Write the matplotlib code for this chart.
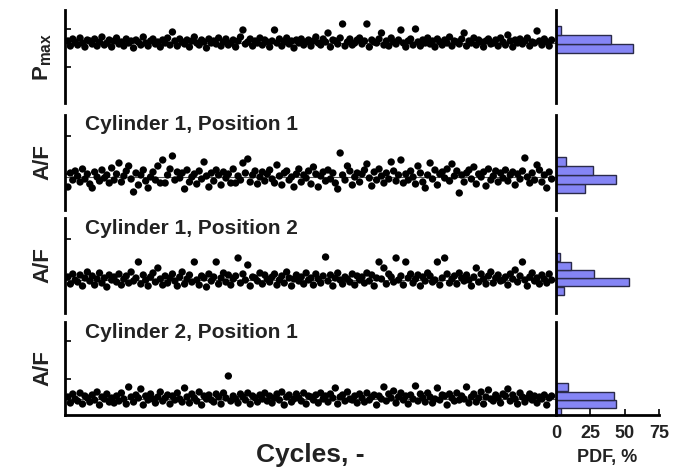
import numpy as np
import matplotlib
matplotlib.use("Agg")
import matplotlib.pyplot as plt

plt.rcParams['font.family'] = ['Liberation Sans', 'DejaVu Sans']

# cycle-to-cycle deviation from the mean line (arbitrary units), 200 cycles per trace
pmax_vals = [
    2, -3, 4, 1, -2, 5, 0, -4, 3, 2, -1, 4, -3, 1, 6, -2, 0, 3, -4, 2,
    5, -1, 1, -3, 4, 0, 2, -5, 3, 1, -2, 6, 0, -3, 2, 4, -1, 1, -4, 3,
    0, 5, -2, 11, 2, -3, 4, 1, -1, 3, -4, 2, 6, 0, -2, 3, 1, -5, 4, 0,
    2, -1, 5, -3, 1, 4, -2, 0, 3, -4, 2, 6, 13, -1, 1, 4, -3, 2, 0, 5,
    -2, 3, 1, -4, 2, 13, 0, 4, -3, 1, 5, -1, 2, -5, 3, 0, 4, -2, 1, 3,
    -3, 2, 6, 0, -2, 4, 1, 10, -4, 3, 2, -1, 5, 19, -3, 1, 4, -2, 0, 3,
    5, -1, 2, 19, -4, 3, 1, 0, 4, 10, -2, 2, -3, 5, 1, -1, 3, 13, 0, -4,
    2, 4, -2, 14, 1, -3, 3, 0, 5, -1, 2, -4, 4, 1, -2, 3, 0, 6, -3, 2,
    1, -1, 4, 10, -3, 2, 0, 5, -2, 3, 1, -4, 2, 4, -1, 0, 3, -3, 5, 1,
    -2, 8, 2, -4, 3, 0, 4, -1, 2, 5, -3, 1, 0, 12, 2, -2, 4, 1, -3, 3,
]
af_c1p1 = [
    -10, 4, -3, 6, 1, -5, 8, -2, 3, -7, -11, 5, 0, -4, 7, -1, 2, -6, 9, -3,
    3, 14, -5, 1, 6, 11, -2, -15, 4, -8, 2, 7, -4, -11, 0, 5, -3, 11, -6, 17,
    -6, 2, 8, 21, -3, 5, -1, 4, -12, 7, -5, 0, 3, -7, 6, -2, 15, 1, -10, 4,
    -4, 7, 2, -8, 5, -1, 3, -6, 8, -6, 1, -3, 14, 4, 18, -5, 2, 6, -7, 0,
    5, -4, 3, 7, -2, -6, 12, 1, -8, 4, 6, -3, 0, -10, 3, 8, -5, 2, -1, 6,
    -7, 10, 3, -10, 1, 5, -4, 7, -2, 4, -6, -12, 24, 2, -3, 11, 6, -8, 0, 4,
    -5, 3, 7, 13, -1, -9, 5, -3, 8, 1, -6, 4, -2, 15, 6, -4, 2, 17, -6, 3,
    -3, 6, 0, -7, 11, 4, -5, -11, 2, 14, -2, 7, -8, 3, 5, -1, 8, -4, 13, 1,
    6, -16, 2, -5, 4, 7, -2, 10, -7, 3, 0, 5, -9, 8, -3, 1, 6, -5, 4, -1,
    7, -4, 2, 5, -8, 3, -2, 6, 19, 0, -6, 4, -3, 12, 7, -5, 2, -11, 5, -2,
]
af_c1p2 = [
    3, -4, 6, 0, -2, 5, -6, 2, 8, -1, 4, -5, 1, 7, -3, 2, -7, 5, 0, 3,
    -2, 6, -5, 1, 4, -3, 8, -1, 2, 18, -4, 5, 0, -6, 3, 7, -2, 12, 1, -5,
    4, -3, 2, 6, -1, -6, 3, 8, -4, 1, 5, -2, 18, 0, -5, 4, 2, -7, 6, -1,
    3, 18, -4, 2, 7, -2, 5, -5, 1, 4, 22, -3, 6, 0, 15, -6, 3, 2, -1, 7,
    -4, 5, 1, -2, 3, 6, -5, 0, 4, -3, 8, 2, -6, 1, 5, -1, 3, -4, 7, 0,
    2, -5, 6, 1, -3, 4, 23, -1, 5, -6, 2, 7, 0, -4, 3, 1, -2, 6, -5, 4,
    0, 3, -3, 7, -1, 5, -6, 2, 18, 1, 12, -4, 6, 3, -2, 22, 0, 4, -5, 18,
    2, 6, -3, 1, 5, -6, 3, -1, 7, 4, -2, 0, 18, -5, 2, 22, 6, -3, 1, 4,
    -4, 7, 2, -1, 5, 0, -6, 3, 12, -2, 6, 1, -4, 4, 8, -3, 2, 5, -1, 0,
    3, -5, 6, 1, 10, -2, 4, 18, 0, -6, 3, 7, -1, 2, -4, 5, 1, -3, 6, 0,
]
af_c2p1 = [
    2, -4, 5, 0, -2, 6, -5, 3, 1, -3, 4, -1, 7, -6, 2, 0, 5, -3, 1, -4,
    3, -2, 6, 0, -5, 12, 2, -3, 4, 1, 10, -6, 3, -1, 5, 0, -4, 2, 7, -2,
    1, 4, -5, 3, -1, 6, 0, -3, 11, 2, -4, 5, 1, -2, 7, -6, 3, 0, 4, -1,
    -3, 5, 2, -5, 6, 1, 23, -2, 3, 0, -4, 5, 2, -1, 6, -5, 3, 1, -3, 4,
    0, 6, -2, 3, -4, 1, 5, -1, 7, -6, 2, 4, -3, 0, 5, 1, -2, 6, -5, 3,
    2, -1, 4, -4, 6, 0, 3, -3, 5, 1, 11, -5, 2, 4, -2, 7, 0, -1, 3, -4,
    5, 1, -3, 6, -1, 2, 4, -6, 3, 0, 12, -2, 5, 1, 8, -4, 2, 6, -1, 3,
    -5, 4, 0, 13, -2, 5, 1, -3, 6, 2, -4, 0, 11, -1, 4, 3, -6, 5, 1, -2,
    6, -1, 3, 0, 12, -4, 2, 5, -3, 1, 7, -5, 2, 9, 0, -2, 4, 1, -4, 5,
    3, 10, -2, 4, 0, -5, 6, 2, -3, 1, 5, -1, 3, -4, 2, 0, 4, -6, 1, 3,
]

# PDF histograms: lower bin edge (same units as traces) and percentage
pmax_bins, pmax_pdf = [-10, -1, 8], [56, 40, 4]
c1p1_bins, c1p1_pdf = [-16, -7, 2, 11], [21, 44, 27, 7]
c1p2_bins, c1p2_pdf = [-15, -6, 2, 10, 19], [6, 53, 28, 11, 3]
c2p1_bins, c2p1_pdf = [-17, -9, -1, 8], [4, 44, 42, 9]

panels = [
    dict(vals=pmax_vals, bins=pmax_bins, pdf=pmax_pdf, bw=9, ylim=(-60, 33),
         label=r'P$_{\mathregular{max}}$', title=None),
    dict(vals=af_c1p1, bins=c1p1_bins, pdf=c1p1_pdf, bw=9, ylim=(-33, 62),
         label='A/F', title='Cylinder 1, Position 1'),
    dict(vals=af_c1p2, bins=c1p2_bins, pdf=c1p2_pdf, bw=8.5, ylim=(-33, 62),
         label='A/F', title='Cylinder 1, Position 2'),
    dict(vals=af_c2p1, bins=c2p1_bins, pdf=c2p1_pdf, bw=8.5, ylim=(-16, 77),
         label='A/F', title='Cylinder 2, Position 1'),
]

W, H = 683, 469
fig = plt.figure(figsize=(W / 100, H / 100), dpi=100)

rows_px = [(10, 103), (115, 210), (218, 313), (322, 415)]
x0, x1, x2 = 65, 556, 659

for k, (p, (top, bot)) in enumerate(zip(panels, rows_px)):
    last = k == len(panels) - 1
    ax = fig.add_axes([x0 / W, 1 - bot / H, (x1 - x0) / W, (bot - top) / H])
    hx = fig.add_axes([x1 / W, 1 - bot / H, (x2 - x1) / W, (bot - top) / H], sharey=ax)

    cycles = np.arange(len(p['vals']))
    ax.axhline(0, color='#555555', lw=0.8, zorder=1)
    ax.scatter(cycles, p['vals'], s=28, c='black', edgecolors='none', zorder=2)
    ax.set_xlim(-1.2, 200.8)
    ax.set_ylim(*p['ylim'])
    ax.set_xticks([])
    ax.set_yticks([p['ylim'][0] + 36, p['ylim'][0] + 74])
    ax.tick_params(axis='y', direction='in', length=4, width=1.2, labelleft=False)
    for s in ['top', 'right']:
        ax.spines[s].set_visible(False)
    ax.spines['left'].set_linewidth(2)
    ax.spines['bottom'].set_visible(last)
    ax.spines['bottom'].set_linewidth(2)

    ax.text(-0.045, 0.5, p['label'], transform=ax.transAxes, rotation=90,
            ha='center', va='center', fontsize=16, fontweight='bold', color='#222222')
    if p['title']:
        ax.text(20 / (x1 - x0), 1 - 10 / (bot - top), p['title'], transform=ax.transAxes,
                ha='left', va='center', fontsize=15, fontweight='bold', color='#222222')

    hx.barh(p['bins'], p['pdf'], height=p['bw'], align='edge',
            color='#8585f5', edgecolor='#2a2a4a', linewidth=1, zorder=2)
    hx.set_xlim(0, 75)
    for s in ['top', 'right']:
        hx.spines[s].set_visible(False)
    hx.spines['left'].set_linewidth(2)
    hx.spines['bottom'].set_visible(last)
    hx.spines['bottom'].set_linewidth(2)
    hx.tick_params(axis='y', left=False, labelleft=False)
    if last:
        hx.set_xticks([0, 25, 50, 75])
        hx.tick_params(axis='x', direction='in', length=4, width=1.2,
                       labelsize=13, pad=7, labelcolor='#222222')
        for t in hx.get_xticklabels():
            t.set_fontweight('bold')
        hx.set_xlabel('PDF, %', fontsize=13, fontweight='bold', color='#222222', labelpad=5)
        ax.set_xlabel('Cycles, -', fontsize=19, fontweight='bold', color='#222222', labelpad=20)
    else:
        hx.set_xticks([])

fig.savefig('out.png', dpi=100)
